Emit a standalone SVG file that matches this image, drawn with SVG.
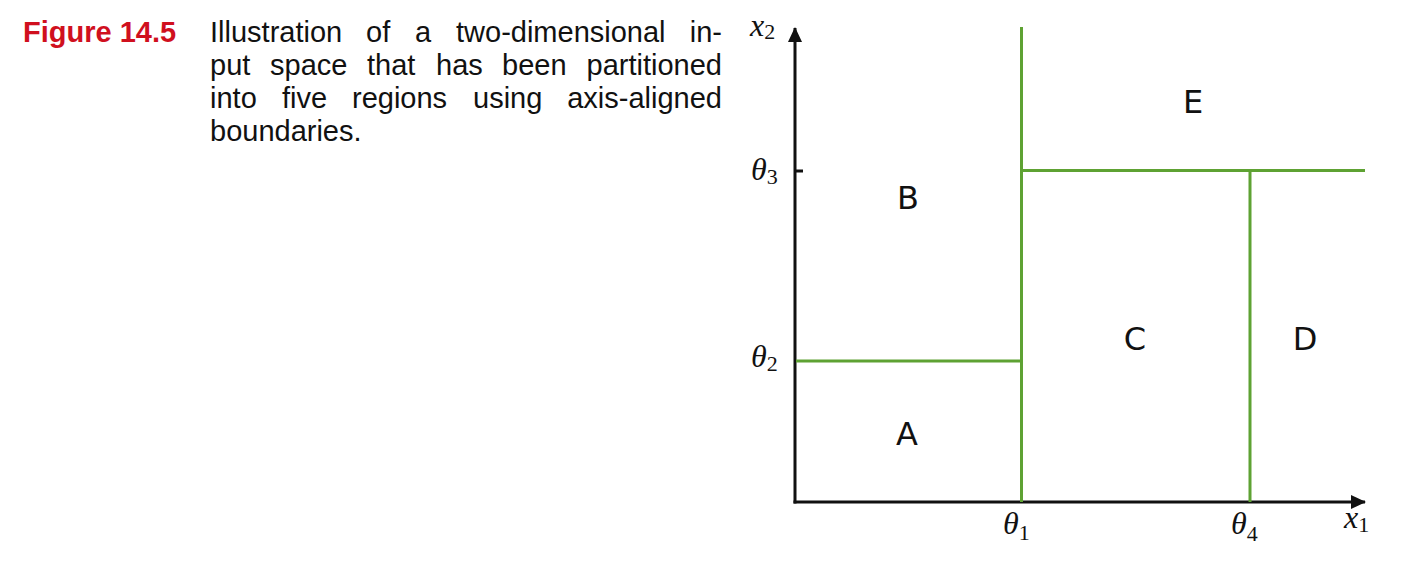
<svg xmlns="http://www.w3.org/2000/svg" width="1412" height="568" viewBox="0 0 1412 568">
<style>
.cap{font-family:"Liberation Sans",Arial,sans-serif;font-size:29px;fill:#111}
.fig{font-family:"Liberation Sans",Arial,sans-serif;font-size:29px;font-weight:bold;fill:#d0101e}
.reg{font-family:"DejaVu Sans",sans-serif;font-size:32px;fill:#111;text-anchor:middle}
.m{font-family:"Liberation Serif","Times New Roman",serif;font-size:32px;font-style:italic;fill:#111}
.sub{font-style:normal;font-size:22px}
.axis{stroke:#111;stroke-width:3;fill:none}
.green{stroke:#5ea233;stroke-width:3;fill:none}
</style>
<defs>
<marker id="arr" viewBox="0 0 15 14" refX="14" refY="7" markerWidth="15" markerHeight="14" markerUnits="userSpaceOnUse" orient="auto">
<path d="M0,0 L15,7 L0,14 Z" fill="#111"/>
</marker>
</defs>
<rect width="1412" height="568" fill="#fff"/>
<g id="caption">
<text class="fig" x="23" y="42">Figure 14.5</text>
<text class="cap" y="42"><tspan x="210">Illustration</tspan><tspan x="366">of</tspan><tspan x="415">a</tspan><tspan x="456">two-dimensional</tspan><tspan x="722" text-anchor="end">in-</tspan></text>
<text class="cap" y="75"><tspan x="210">put</tspan><tspan x="270">space</tspan><tspan x="367">that</tspan><tspan x="436">has</tspan><tspan x="502">been</tspan><tspan x="722" text-anchor="end">partitioned</tspan></text>
<text class="cap" y="108"><tspan x="210">into</tspan><tspan x="282">five</tspan><tspan x="352">regions</tspan><tspan x="473">using</tspan><tspan x="722" text-anchor="end">axis-aligned</tspan></text>
<text class="cap" x="210" y="141">boundaries.</text>
</g>
<g id="connectors">
<line class="axis" x1="795" y1="503.5" x2="795" y2="28" marker-end="url(#arr)"/>
<line class="axis" x1="793.5" y1="502" x2="1365" y2="502" marker-end="url(#arr)"/>
<line class="axis" x1="795" y1="171" x2="803" y2="171"/>
<line class="green" x1="1021.5" y1="27" x2="1021.5" y2="502"/>
<line class="green" x1="796" y1="361" x2="1021.5" y2="361"/>
<line class="green" x1="1021.5" y1="170.5" x2="1365" y2="170.5"/>
<line class="green" x1="1250" y1="170.5" x2="1250" y2="502"/>
</g>
<g id="axis-labels">
<text class="m" x="750" y="36">x<tspan class="sub" dy="3">2</tspan></text>
<text class="m" x="751" y="180">θ<tspan class="sub" dy="4">3</tspan></text>
<text class="m" x="751" y="367">θ<tspan class="sub" dy="4">2</tspan></text>
<text class="m" x="1003" y="534">θ<tspan class="sub" dy="6">1</tspan></text>
<text class="m" x="1231" y="534">θ<tspan class="sub" dy="7">4</tspan></text>
<text class="m" x="1344" y="528">x<tspan class="sub" dy="4">1</tspan></text>
</g>
<g id="region-A"><text class="reg" x="907" y="445">A</text></g>
<g id="region-B"><text class="reg" x="908" y="209">B</text></g>
<g id="region-C"><text class="reg" x="1135" y="350">C</text></g>
<g id="region-D"><text class="reg" x="1305" y="350">D</text></g>
<g id="region-E"><text class="reg" x="1193" y="113">E</text></g>
</svg>
